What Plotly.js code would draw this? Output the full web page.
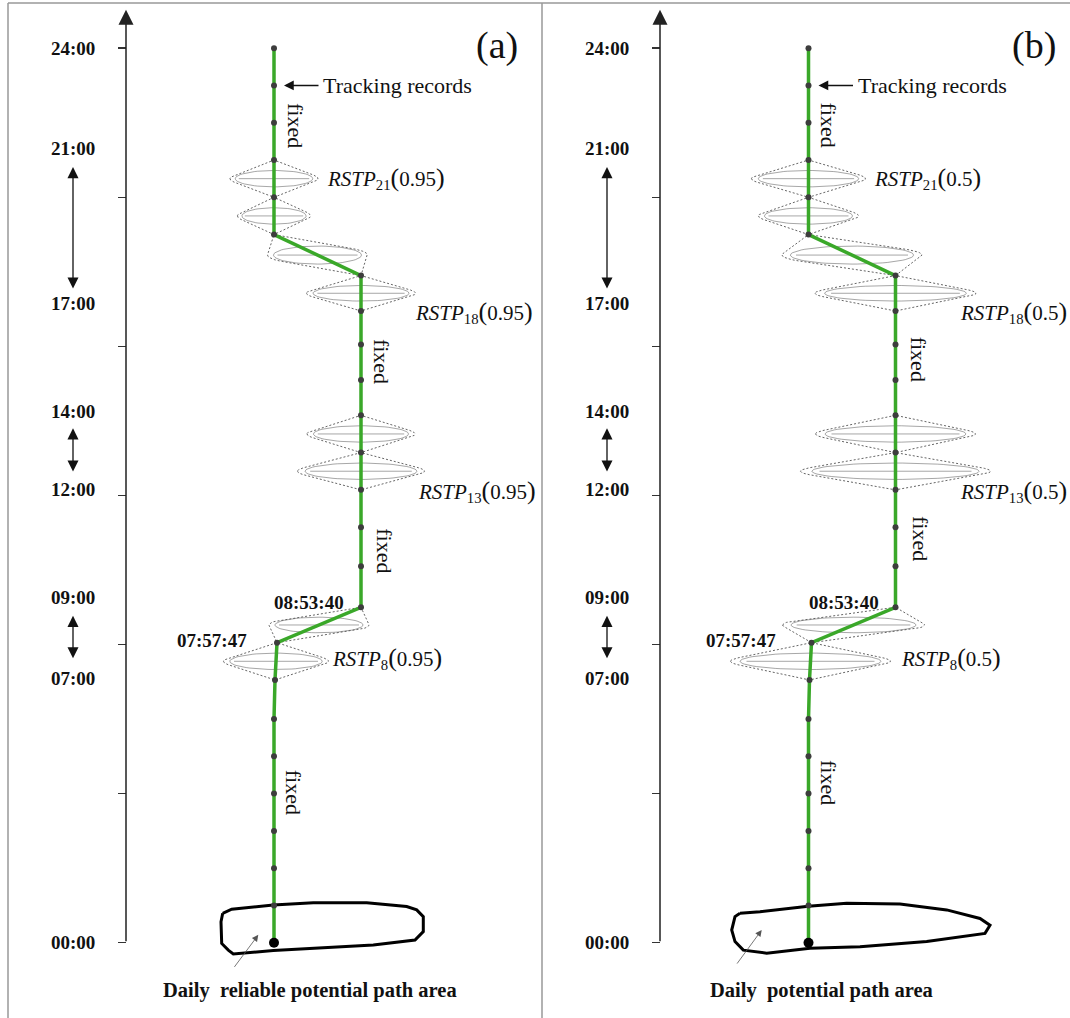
<!DOCTYPE html>
<html><head><meta charset="utf-8">
<script src="https://cdn.plot.ly/plotly-3.0.1.min.js"></script>
<style>html,body{margin:0;padding:0;background:#fff;} #chart{width:1070px;height:1018px;}</style>
</head><body><div id="chart"></div>
<script>
// ---------------- DATA ----------------
// tracking record times (hours on the time axis) and lateral offset of the path at each record
const recordTimes = [0,1,2,3,4,5,6,7.05,8.05,9.0,10.1,11.15,12.15,13.15,14.15,15.1,16.05,16.95,17.9,19,20,21,22,23,24];
const pathOffset  = [0,0,0,0,0,0,0,1,3,87,87,87,87,87,87,87,87,87,87,0,0,0,0,0,0];
// prisms span record i -> i+1
const prismStart      = [7,8,12,13,17,18,19,20];
const prismHalfWidthA = [52.5,50,63.5,54,54.5,50,36.5,44];   // RSTP(0.95)
const prismHalfWidthB = [80,71,95,80,80.5,70,50,57];         // RSTP(0.5)
// RSTP labels
const rstpSub   = ['21','18','13','8'];
const rstpLevel = ['0.95','0.5'];
// time axis
const axisTicks  = [0,4,8,12,16,20,24];
const timeLabels = ['24:00','21:00','17:00','14:00','12:00','09:00','07:00','00:00'];
const timeLabelH = [23.99,21.32,17.16,14.26,12.17,9.25,7.08,0];
const rangeArrows = [[20.81,17.51],[13.8,12.6],[8.77,7.59]];
// labelled record times
const recordLabelIdx  = [9,8];
const recordLabelText = ['08:53:40','07:57:47'];
// daily path areas (x offset, hours)
const blobAX = [-51.3,-42.3,-0.7,39.3,92.7,132.7,142.7,149.3,149.3,141,99.3,32.7,-0.7,-40.7,-45.7,-52.3,-53];
const blobAH = [0.79,0.90,1.01,1.07,1.07,0.97,0.88,0.70,0.30,0.07,-0.06,-0.15,-0.21,-0.30,-0.20,-0.02,0.56];
const blobBX = [-68.5,-48.5,-0.2,38.2,91.5,138.2,171.5,181.5,176.5,118.2,51.5,1.5,-41.8,-65.2,-73.5,-76.8,-73.5];
const blobBH = [0.79,0.83,0.98,1.06,1.04,0.88,0.65,0.47,0.25,0.03,-0.11,-0.15,-0.28,-0.20,0.03,0.34,0.70];
const areaText = ['Daily\u00a0 reliable potential path area','Daily\u00a0 potential path area'];
const panelLetter = ['(a)','(b)'];

// ---------------- LAYOUT HELPERS ----------------
const W=1070, H=1018, zeroPx=942.7, hourPx=37.27;
const yRange=[(zeroPx-H)/hourPx, zeroPx/hourPx];
const serif='Liberation Serif, Times New Roman, serif';
const green='#3aa829';

const panels=[
 {xa:'x',ya:'y',dom:[0,542/W],origin:274,hw:prismHalfWidthA,lvl:rstpLevel[0],blobX:blobAX,blobH:blobAH,
  axisX:-148,labelX:-201,letterX:222.7,rstpX:[51,139,142,56],fixedX:[22,107,111,19],fixedH:[21.94,15.61,10.53,4.05],
  recLabX:[35,-62],areaX:36,blobArrow:[-40.7,-0.69,-15.7,0.21]},
 {xa:'x2',ya:'y2',dom:[542/W,1],origin:808.5,hw:prismHalfWidthB,lvl:rstpLevel[1],blobX:blobBX,blobH:blobBH,
  axisX:-148.5,labelX:-201.5,letterX:225.5,rstpX:[63,149,149,90.5],fixedX:[20,109.5,111.5,20],fixedH:[21.94,15.67,10.86,4.3],
  recLabX:[35.5,-67.5],areaX:12.5,blobArrow:[-72.5,-0.6,-46.8,0.34]}
];
const rstpH=[20.52,16.93,12.12,7.63];

function hull(pts){
  pts=pts.slice().sort((a,b)=>a[0]-b[0]||a[1]-b[1]);
  const cr=(o,a,b)=>(a[0]-o[0])*(b[1]-o[1])-(a[1]-o[1])*(b[0]-o[0]);
  const lo=[],up=[];
  for(const p of pts){while(lo.length>=2&&cr(lo[lo.length-2],lo[lo.length-1],p)<=0)lo.pop();lo.push(p);}
  for(let i=pts.length-1;i>=0;i--){const p=pts[i];while(up.length>=2&&cr(up[up.length-2],up[up.length-1],p)<=0)up.pop();up.push(p);}
  up.pop();lo.pop();return lo.concat(up);
}

const traces=[], annotations=[], layout={};
panels.forEach((P,pi)=>{
  const xref=P.xa, yref=P.ya;
  // prisms
  prismStart.forEach((s,k)=>{
    const x0=pathOffset[s],h0=recordTimes[s],x1=pathOffset[s+1],h1=recordTimes[s+1];
    const hw=P.hw[k], mx=(x0+x1)/2, mh=(h0+h1)/2, dh=h1-h0, e=0.22*dh;
    const pts=[[x0,h0],[x1,h1]];
    for(let i=0;i<72;i++){const a=2*Math.PI*i/72;pts.push([mx+hw*Math.cos(a),mh+e*Math.sin(a)]);}
    const hl=hull(pts); hl.push(hl[0]);
    traces.push({type:'scatter',mode:'lines',xaxis:xref,yaxis:yref,x:hl.map(p=>p[0]),y:hl.map(p=>p[1]),
      line:{color:'#666',width:1,dash:'2px,2px'},hoverinfo:'skip',showlegend:false});
    const ex=[],ey=[];
    for(let i=0;i<=72;i++){const a=2*Math.PI*i/72;ex.push(mx+0.88*hw*Math.cos(a));ey.push(mh+0.22*dh*Math.sin(a));}
    ex.push(null);ey.push(null);ex.push(mx-0.8*hw,mx+0.8*hw);ey.push(mh,mh);
    traces.push({type:'scatter',mode:'lines',xaxis:xref,yaxis:yref,x:ex,y:ey,
      line:{color:'rgba(80,80,80,0.5)',width:1},hoverinfo:'skip',showlegend:false});
  });
  // daily area
  traces.push({type:'scatter',mode:'lines',xaxis:xref,yaxis:yref,x:P.blobX.concat([P.blobX[0]]),y:P.blobH.concat([P.blobH[0]]),
    line:{color:'#000',width:3},hoverinfo:'skip',showlegend:false});
  // path
  traces.push({type:'scatter',mode:'lines',xaxis:xref,yaxis:yref,x:pathOffset,y:recordTimes,
    line:{color:green,width:3.5},hoverinfo:'skip',showlegend:false});
  traces.push({type:'scatter',mode:'markers',xaxis:xref,yaxis:yref,x:pathOffset.slice(1),y:recordTimes.slice(1),
    marker:{color:'#3d3d3d',size:6},hoverinfo:'skip',showlegend:false});
  traces.push({type:'scatter',mode:'markers',xaxis:xref,yaxis:yref,x:[pathOffset[0]],y:[recordTimes[0]],
    marker:{color:'#000',size:10},hoverinfo:'skip',showlegend:false});

  const xr=[-(P.origin-P.dom[0]*W), P.dom[1]*W-P.origin];
  const xk=pi===0?'xaxis':'xaxis2', yk=pi===0?'yaxis':'yaxis2';
  layout[xk]={domain:P.dom,range:xr,visible:false,anchor:yref,fixedrange:true};
  layout[yk]={domain:[0,1],range:yRange,anchor:'free',position:(P.dom[0]*W+(P.axisX-xr[0]))/W,
    showgrid:false,zeroline:false,showline:false,showticklabels:false,ticks:'outside',ticklen:8,tickwidth:1.5,
    tickcolor:'#333',tickmode:'array',tickvals:axisTicks,fixedrange:true};

  const A=(o)=>Object.assign({xref:xref,yref:yref},o);
  // axis line with arrow
  annotations.push(A({x:P.axisX,y:25.03,ax:P.axisX,ay:0,axref:xref,ayref:yref,showarrow:true,arrowhead:2,arrowsize:2,arrowwidth:1.5,arrowcolor:'#222',text:''}));
  timeLabels.forEach((t,i)=>annotations.push(A({x:P.labelX,y:timeLabelH[i],text:'<b>'+t+'</b>',showarrow:false,font:{family:serif,size:19,color:'#111'}})));
  rangeArrows.forEach(r=>annotations.push(A({x:P.labelX,y:r[0],ax:P.labelX,ay:r[1],axref:xref,ayref:yref,showarrow:true,arrowside:'end+start',arrowhead:2,arrowsize:1.7,arrowwidth:1.3,arrowcolor:'#111',text:''})));
  // tracking records
  annotations.push(A({x:10,y:23,ax:46,ay:23,axref:xref,ayref:yref,showarrow:true,arrowhead:2,arrowsize:1.5,arrowwidth:1.3,arrowcolor:'#111',text:''}));
  annotations.push(A({x:47,y:23,xanchor:'left',text:'Tracking records',showarrow:false,font:{family:serif,size:22,color:'#111'}}));
  // fixed
  P.fixedX.forEach((fx,i)=>annotations.push(A({x:fx,y:P.fixedH[i],text:'fixed',textangle:90,showarrow:false,font:{family:serif,size:22,color:'#111'}})));
  // RSTP labels
  rstpSub.forEach((s,i)=>annotations.push(A({x:P.rstpX[i],y:rstpH[i],xanchor:'left',showarrow:false,
    text:'<i>RSTP</i><sub>'+s+'</sub><span style="font-size:26px">(</span>'+P.lvl+'<span style="font-size:26px">)</span>',
    font:{family:serif,size:21,color:'#111'}})));
  // labelled records
  recordLabelIdx.forEach((ri,i)=>annotations.push(A({x:P.recLabX[i],y:recordTimes[ri]+(i===0?0.12:0.05),text:'<b>'+recordLabelText[i]+'</b>',showarrow:false,font:{family:serif,size:19,color:'#111'}})));
  // area arrow + text
  const ba=P.blobArrow;
  annotations.push(A({x:ba[2],y:ba[3],ax:ba[0],ay:ba[1],axref:xref,ayref:yref,showarrow:true,arrowhead:2,arrowsize:1.6,arrowwidth:0.8,arrowcolor:'#555',text:''}));
  annotations.push(A({x:P.areaX,y:-1.27,text:'<b>'+areaText[pi]+'</b>',showarrow:false,font:{family:serif,size:20.5,color:'#111'}}));
  annotations.push(A({x:P.letterX,y:24.06,text:panelLetter[pi],showarrow:false,font:{family:serif,size:38,color:'#111'}}));
});

layout.width=W; layout.height=H;
layout.margin={l:0,r:0,t:0,b:0};
layout.paper_bgcolor='#fff'; layout.plot_bgcolor='#fff';
layout.showlegend=false;
layout.annotations=annotations;
layout.shapes=[
  {type:'line',xref:'paper',yref:'paper',x0:8/W,x1:8/W,y0:0,y1:1-3/H,line:{color:'#999',width:1.5}},
  {type:'line',xref:'paper',yref:'paper',x0:8/W,x1:1,y0:1-3/H,y1:1-3/H,line:{color:'#999',width:1.5}},
  {type:'line',xref:'paper',yref:'paper',x0:542/W,x1:542/W,y0:0,y1:1-3/H,line:{color:'#999',width:1.5}}
];
Plotly.newPlot('chart',traces,layout,{staticPlot:true,displayModeBar:false});
</script></body></html>
